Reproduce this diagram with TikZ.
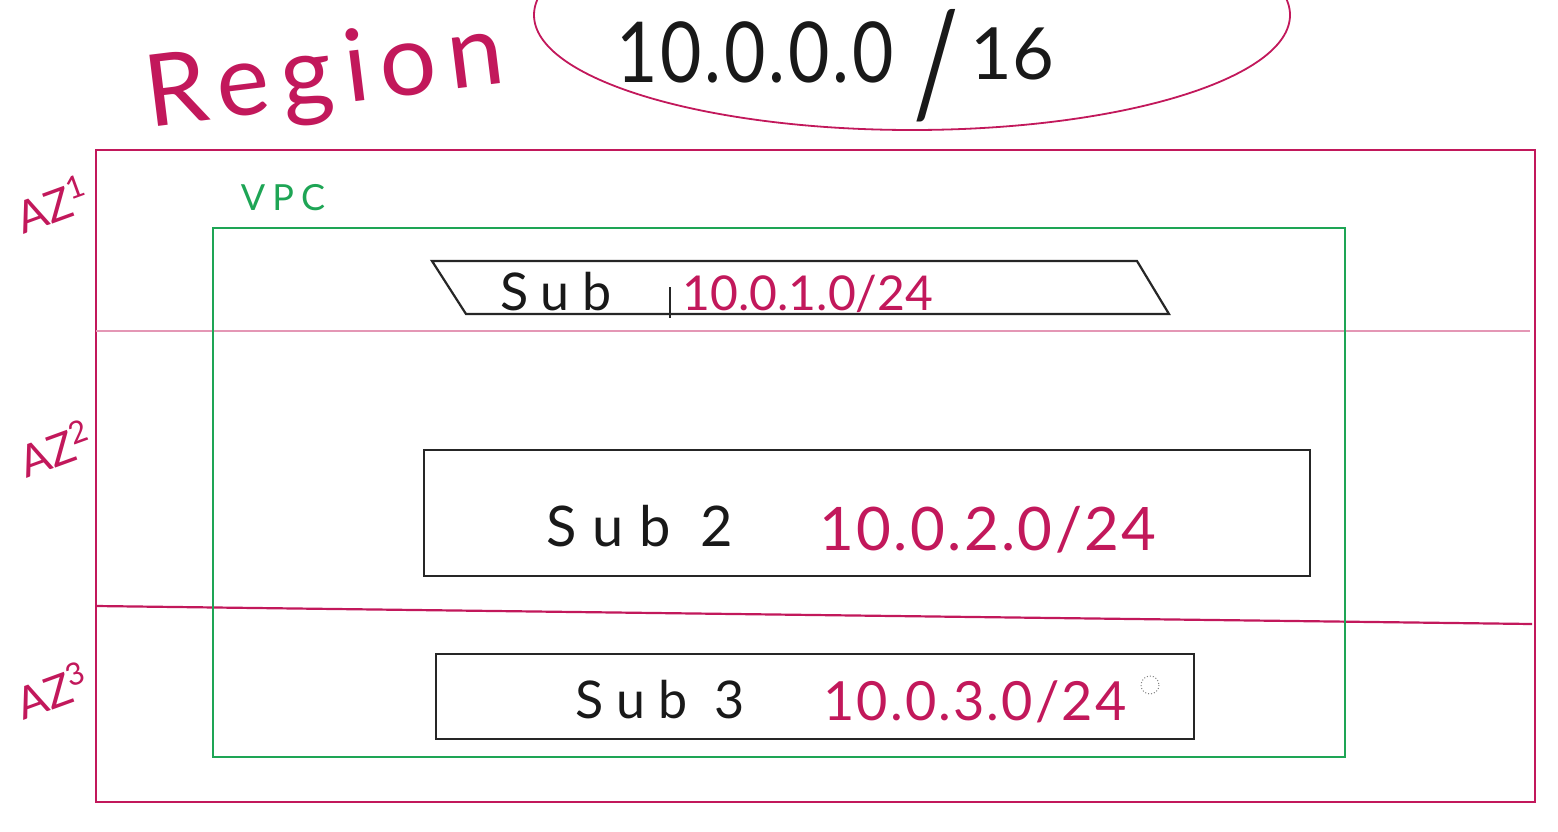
\documentclass[tikz,border=0pt]{standalone}
\usepackage{fontspec}
\setmainfont{Lato}
\definecolor{mag}{RGB}{194,24,91}
\definecolor{vgreen}{RGB}{30,165,85}
\tikzset{
  x=0.5pt, y=-0.5pt,
  regionline/.style={draw=mag, line width=1.1pt},
  vpcline/.style={draw=vgreen, line width=1pt},
  subline/.style={draw=black!85, line width=1.1pt},
  magtext/.style={text=mag, inner sep=0pt},
  blktext/.style={text=black!90, inner sep=0pt},
  aztext/.style={text=mag, inner sep=0pt, font=\fontsize{22}{22}\selectfont, rotate=20},
}
\begin{document}
\begin{tikzpicture}
\useasboundingbox (0,0) rectangle (1558,831);
\fill[white] (0,0) rectangle (1558,831);
% region ellipse (top is cut off)
\begin{scope}
\clip (0,0) rectangle (1558,831);
\draw[draw=mag, line width=0.9pt] (912,15) ellipse [x radius=378, y radius=115];
\end{scope}
\node[magtext, rotate=7, font=\fontsize{50}{50}\selectfont\addfontfeatures{LetterSpace=12}] (regionlbl) at (325,78) {Region};
\node[blktext, xscale=0.85, font=\fontsize{42}{42}\selectfont\addfontfeatures{LetterSpace=4}] (cidr) at (755,52) {10.0.0.0};
\node[blktext, xscale=0.7, font=\fontsize{72}{72}\selectfont] (cidrslash) at (936,66) {/};
\node[blktext, font=\fontsize{36}{36}\selectfont] (cidrmask) at (1012,54) {16};
% region box
\draw[regionline] (96,150) rectangle (1535,802);
% AZ dividers
\draw[draw=mag!45, line width=0.6pt] (96,331) -- (1530,331);
\draw[regionline] (96,606) -- (1532,624);
% AZ labels
\node[aztext] (az1) at (52,204) {AZ\textsuperscript{1}};
\node[aztext] (az2) at (55,448) {AZ\textsuperscript{2}};
\node[aztext] (az3) at (52,690) {AZ\textsuperscript{3}};
% VPC
\draw[vpcline] (213,228) rectangle (1345,757);
\node[text=vgreen, inner sep=0pt, font=\fontsize{18}{18}\selectfont\addfontfeatures{LetterSpace=20}] (vpclbl) at (283,198) {VPC};
% Subnet 1 (parallelogram)
\draw[subline] (432,261) -- (1137,261) -- (1169,314) -- (466,314) -- cycle;
\node[blktext, font=\fontsize{26}{26}\selectfont\addfontfeatures{LetterSpace=25}] (sub1lbl) at (556,292) {Sub};
\coordinate (tickA) at (670,287);
\coordinate (tickB) at (670,318);
\draw[black!85, line width=0.8pt] (tickA) -- (tickB);
\node[magtext, font=\fontsize{24}{24}\selectfont] (sub1cidr) at (808,294) {10.0.1.0/24};
% Subnet 2
\draw[subline] (424,450) rectangle (1310,576);
\node[blktext, font=\fontsize{28}{28}\selectfont\addfontfeatures{LetterSpace=28}] (sub2lbl) at (640,526) {Sub 2};
\node[magtext, font=\fontsize{30}{30}\selectfont\addfontfeatures{LetterSpace=4}] (sub2cidr) at (988,530) {10.0.2.0/24};
% Subnet 3
\draw[subline] (436,654) rectangle (1194,739);
\node[blktext, font=\fontsize{26}{26}\selectfont\addfontfeatures{LetterSpace=25}] (sub3lbl) at (660,700) {Sub 3};
\node[magtext, font=\fontsize{27}{27}\selectfont\addfontfeatures{LetterSpace=4}] (sub3cidr) at (975,702) {10.0.3.0/24};
\coordinate (cursor) at (1150,685);
\draw[black!50, densely dotted, line width=0.5pt] (cursor) circle [radius=9];
\end{tikzpicture}
\end{document}
